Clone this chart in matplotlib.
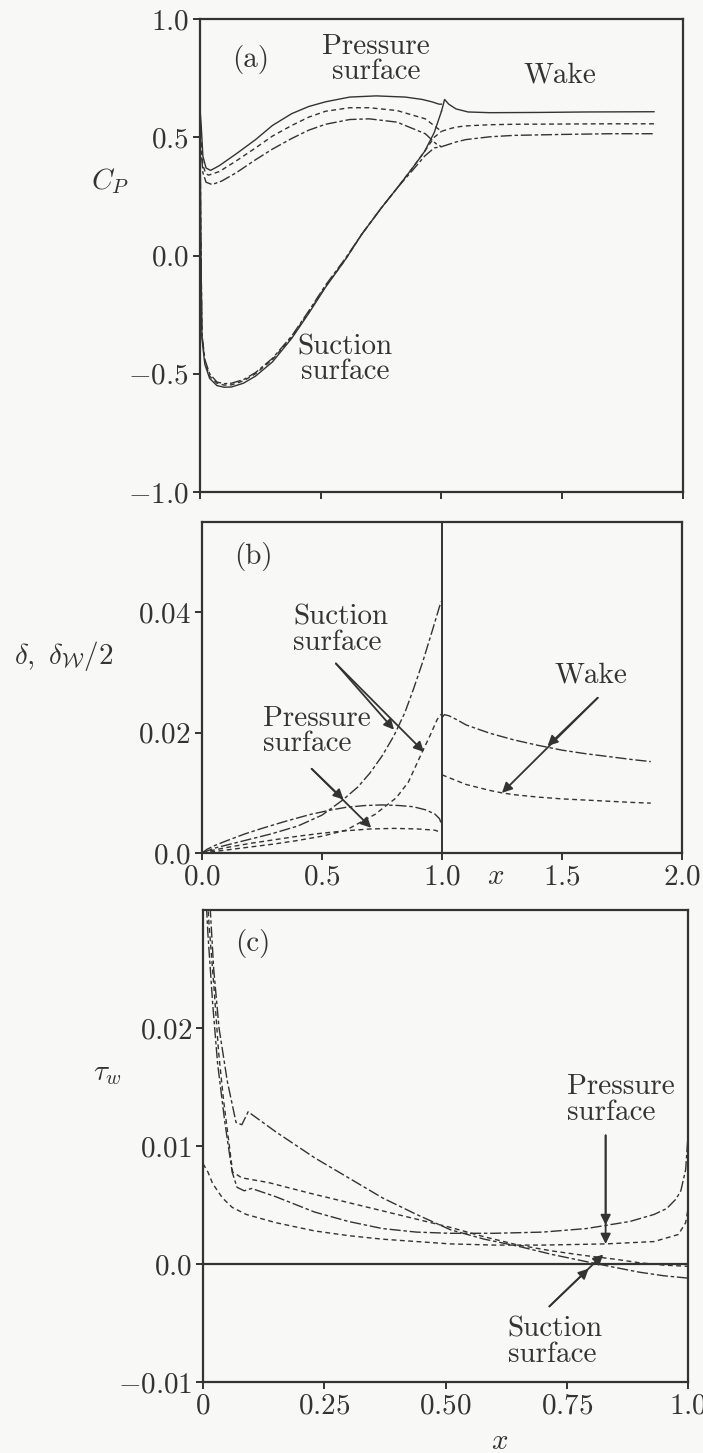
import matplotlib
matplotlib.use('Agg')
import matplotlib.pyplot as plt

# ============================================================
#  STYLE
# ============================================================
plt.rcParams['font.family'] = 'serif'
plt.rcParams['font.serif'] = ['cmr10', 'DejaVu Serif']
plt.rcParams['mathtext.fontset'] = 'cm'
plt.rcParams['axes.formatter.use_mathtext'] = True

INK = '#333333'
BG = '#f8f8f6'
FS = 21
LW = 1.0
SHORT = (0, (3.5, 2.5))
LONG = (0, (8, 2, 2.5, 2))

# ============================================================
#  DATA (a) - pressure coefficient
# ============================================================
ps_x_solid = [0.0, 0.005, 0.012, 0.025, 0.044, 0.08, 0.15, 0.23, 0.30, 0.38, 0.45,
              0.52, 0.62, 0.73, 0.85, 0.92, 0.96, 0.99, 1.0]
ps_cp_solid = [0.62, 0.55, 0.42, 0.37, 0.36, 0.38, 0.43, 0.49, 0.55, 0.60, 0.63,
               0.65, 0.67, 0.675, 0.67, 0.66, 0.65, 0.64, 0.64]
ps_x_short = [0.0, 0.005, 0.012, 0.025, 0.036, 0.08, 0.15, 0.23, 0.30, 0.38, 0.45,
              0.52, 0.62, 0.70, 0.816, 0.933, 0.977, 1.0]
ps_cp_short = [0.55, 0.48, 0.38, 0.345, 0.34, 0.355, 0.40, 0.455, 0.505, 0.55, 0.585,
               0.61, 0.625, 0.625, 0.613, 0.578, 0.543, 0.525]
ps_x_long = [0.0, 0.005, 0.012, 0.025, 0.05, 0.09, 0.15, 0.23, 0.30, 0.38, 0.45,
             0.52, 0.62, 0.70, 0.816, 0.933, 0.977, 1.0]
ps_cp_long = [0.5, 0.44, 0.35, 0.31, 0.30, 0.315, 0.35, 0.405, 0.45, 0.495, 0.53,
              0.555, 0.575, 0.578, 0.564, 0.515, 0.473, 0.46]

ss_x = [0.0, 0.003, 0.008, 0.02, 0.04, 0.07, 0.10, 0.13, 0.18, 0.23, 0.30, 0.38,
        0.45, 0.52, 0.60, 0.67, 0.75, 0.82, 0.88, 0.93, 0.97, 1.0]
ss_cp_solid = [0.62, 0.1, -0.35, -0.46, -0.52, -0.55, -0.557, -0.556, -0.54, -0.51,
               -0.45, -0.35, -0.245, -0.134, -0.02, 0.09, 0.20, 0.29, 0.37, 0.44, 0.52, 0.61]
ss_cp_short = [0.55, 0.1, -0.34, -0.45, -0.51, -0.54, -0.548, -0.547, -0.53, -0.50,
               -0.44, -0.345, -0.24, -0.13, -0.02, 0.09, 0.20, 0.29, 0.37, 0.44, 0.50, 0.525]
ss_cp_long = [0.5, 0.1, -0.33, -0.44, -0.50, -0.535, -0.542, -0.54, -0.525, -0.495,
              -0.435, -0.34, -0.235, -0.125, -0.015, 0.09, 0.20, 0.29, 0.36, 0.42, 0.455, 0.46]

wk_x_solid = [1.0, 1.013, 1.03, 1.06, 1.11, 1.2, 1.4, 1.6, 1.88]
wk_cp_solid = [0.61, 0.66, 0.64, 0.62, 0.607, 0.604, 0.605, 0.607, 0.608]
wk_x = [1.0, 1.03, 1.06, 1.1, 1.2, 1.3, 1.5, 1.7, 1.88]
wk_cp_short = [0.525, 0.535, 0.543, 0.548, 0.553, 0.555, 0.556, 0.557, 0.557]
wk_cp_long = [0.46, 0.47, 0.48, 0.49, 0.502, 0.508, 0.512, 0.515, 0.515]

# ============================================================
#  DATA (b) - displacement thickness
# ============================================================
bs_x_long = [0.0, 0.05, 0.1, 0.2, 0.29, 0.4, 0.5, 0.586, 0.65, 0.7, 0.75, 0.8,
             0.845, 0.88, 0.92, 0.96, 0.99, 1.0]
bs_d_long = [0.0, 0.0008, 0.0013, 0.0023, 0.0032, 0.0045, 0.0063, 0.0088, 0.011,
             0.0133, 0.0161, 0.0195, 0.0233, 0.0271, 0.0318, 0.037, 0.041, 0.042]
bs_x_short = [0.0, 0.1, 0.2, 0.3, 0.4, 0.5, 0.6, 0.66, 0.72, 0.81, 0.86, 0.92, 0.95,
              0.98, 1.0]
bs_d_short = [0.0, 0.0005, 0.001, 0.0015, 0.0021, 0.0028, 0.0038, 0.0051, 0.0064,
              0.0092, 0.0118, 0.017, 0.0195, 0.0222, 0.0232]
bp_x_long = [0.0, 0.02, 0.05, 0.1, 0.18, 0.25, 0.35, 0.45, 0.53, 0.6, 0.68, 0.75,
             0.82, 0.88, 0.93, 0.97, 0.99, 1.0]
bp_d_long = [0.0, 0.0006, 0.0012, 0.0020, 0.0032, 0.0041, 0.0053, 0.0064, 0.0071,
             0.0076, 0.0079, 0.008, 0.0079, 0.0077, 0.0072, 0.0065, 0.0057, 0.0045]
bp_x_short = [0.0, 0.05, 0.1, 0.2, 0.3, 0.4, 0.5, 0.6, 0.7, 0.8, 0.9, 0.97, 1.0]
bp_d_short = [0.0, 0.0005, 0.0009, 0.0016, 0.0022, 0.0028, 0.0033, 0.0037, 0.0040,
              0.0041, 0.0040, 0.0038, 0.0034]
bw_x_long = [1.0, 1.01, 1.03, 1.06, 1.1, 1.2, 1.3, 1.4, 1.5, 1.6, 1.7, 1.8, 1.87]
bw_d_long = [0.0225, 0.023, 0.0228, 0.0222, 0.0213, 0.0199, 0.0188, 0.0179, 0.0171,
             0.0165, 0.016, 0.0155, 0.0152]
bw_x_short = [1.0, 1.05, 1.1, 1.2, 1.25, 1.3, 1.4, 1.5, 1.6, 1.7, 1.8, 1.87]
bw_d_short = [0.013, 0.0122, 0.0114, 0.0104, 0.0100, 0.0097, 0.0093, 0.009, 0.0088,
              0.0086, 0.0084, 0.0083]

# ============================================================
#  DATA (c) - wall shear stress
# ============================================================
cs_x_long = [0.01, 0.015, 0.022, 0.033, 0.05, 0.068, 0.08, 0.093, 0.15, 0.23, 0.30,
             0.37, 0.44, 0.51, 0.58, 0.65, 0.72, 0.79, 0.85, 0.90, 0.95, 1.0]
cs_t_long = [0.032, 0.03, 0.025, 0.02, 0.0155, 0.012, 0.0118, 0.0129, 0.0112, 0.0090,
             0.0073, 0.0056, 0.0042, 0.0029, 0.0021, 0.0015, 0.0008, 0.0002, -0.0003,
             -0.0007, -0.001, -0.0012]
cs_x_short = [0.008, 0.012, 0.023, 0.032, 0.042, 0.061, 0.08, 0.135, 0.22, 0.32, 0.42,
              0.51, 0.58, 0.65, 0.72, 0.79, 0.85, 0.90, 0.95, 1.0]
cs_t_short = [0.032, 0.029, 0.0232, 0.018, 0.014, 0.0078, 0.0073, 0.0069, 0.006, 0.005,
              0.004, 0.0031, 0.0023, 0.0016, 0.0011, 0.0007, 0.0004, 0.0001, -0.0001,
              -0.0002]
cp_x_long = [0.005, 0.01, 0.02, 0.03, 0.045, 0.06, 0.07, 0.085, 0.10, 0.15, 0.23,
             0.30, 0.37, 0.44, 0.51, 0.6, 0.7, 0.79, 0.88, 0.93, 0.956, 0.975, 0.985,
             0.995, 1.0]
cp_t_long = [0.032, 0.028, 0.022, 0.017, 0.012, 0.0078, 0.0065, 0.0062, 0.0064,
             0.0057, 0.0044, 0.0036, 0.003, 0.0027, 0.0026, 0.0026, 0.0027, 0.003,
             0.0036, 0.0042, 0.0047, 0.0055, 0.0062, 0.008, 0.011]
cp_x_short = [0.0, 0.01, 0.02, 0.04, 0.06, 0.089, 0.15, 0.23, 0.30, 0.37, 0.44, 0.51,
              0.6, 0.7, 0.83, 0.93, 0.98, 0.995, 1.0]
cp_t_short = [0.0085, 0.0078, 0.0068, 0.0056, 0.0048, 0.0042, 0.0035, 0.0028, 0.0024,
              0.0021, 0.0019, 0.0017, 0.0016, 0.0016, 0.0017, 0.0019, 0.0025, 0.0035,
              0.0047]

# tick labels
a_yticks = [-1.0, -0.5, 0.0, 0.5, 1.0]
a_ylabels = ['$-1.0$', '$-0.5$', '$0.0$', '$0.5$', '$1.0$']
a_xticks = [0.0, 0.5, 1.0, 1.5, 2.0]
b_xticks = [0.0, 0.5, 1.0, 1.5, 2.0]
b_xlabels = ['$0.0$', '$0.5$', '$1.0$', '$1.5$', '$2.0$']
b_yticks = [0.0, 0.02, 0.04]
b_ylabels = ['$0.0$', '$0.02$', '$0.04$']
c_xticks = [0.0, 0.25, 0.5, 0.75, 1.0]
c_xlabels = ['$0$', '$0.25$', '$0.50$', '$0.75$', '$1.0$']
c_yticks = [-0.01, 0.0, 0.01, 0.02]
c_ylabels = ['$-0.01$', '$0.0$', '$0.01$', '$0.02$']


def style_axes(ax):
    ax.set_facecolor(BG)
    for s in ax.spines.values():
        s.set_color(INK)
        s.set_linewidth(1.6)
    ax.tick_params(direction='out', length=5, width=1.4, color=INK,
                   labelsize=FS, labelcolor=INK, pad=3,
                   top=False, right=False)


def arrow(ax, start, end):
    ax.annotate('', xy=end, xytext=start,
                arrowprops=dict(arrowstyle='-|>', color=INK, lw=1.3,
                                mutation_scale=15, shrinkA=0, shrinkB=0))


fig = plt.figure(figsize=(7.03, 14.53), dpi=100, facecolor=BG)

# ============================================================
#  PANEL (a)
# ============================================================
ax = fig.add_axes([0.2845, 0.6614, 0.687, 0.3255])
style_axes(ax)
ax.plot(ps_x_solid, ps_cp_solid, color=INK, lw=LW)
ax.plot(ps_x_short, ps_cp_short, color=INK, lw=LW, ls=SHORT)
ax.plot(ps_x_long, ps_cp_long, color=INK, lw=LW, ls=LONG)
ax.plot(ss_x, ss_cp_solid, color=INK, lw=LW)
ax.plot(ss_x, ss_cp_short, color=INK, lw=LW, ls=SHORT)
ax.plot(ss_x, ss_cp_long, color=INK, lw=LW, ls=LONG)
ax.plot(wk_x_solid, wk_cp_solid, color=INK, lw=LW)
ax.plot(wk_x, wk_cp_short, color=INK, lw=LW, ls=SHORT)
ax.plot(wk_x, wk_cp_long, color=INK, lw=LW, ls=LONG)
ax.set_xlim(0, 2)
ax.set_ylim(-1, 1)
ax.set_xticks(a_xticks, [''] * len(a_xticks))
ax.set_yticks(a_yticks, a_ylabels)
ax.set_ylabel('$C_P$', rotation=0, fontsize=FS, color=INK)
ax.yaxis.set_label_coords(-0.186, 0.625)
ax.text(0.21, 0.83, '(a)', fontsize=FS, color=INK, ha='center', va='center')
ax.text(0.73, 0.83, 'Pressure\nsurface', fontsize=FS, color=INK, ha='center',
        va='center', linespacing=0.95)
ax.text(1.49, 0.76, 'Wake', fontsize=FS, color=INK, ha='center', va='center')
ax.text(0.60, -0.44, 'Suction\nsurface', fontsize=FS, color=INK, ha='center',
        va='center', linespacing=0.95)

# ============================================================
#  PANEL (b)
# ============================================================
ax = fig.add_axes([0.2873, 0.4129, 0.6828, 0.2278])
style_axes(ax)
ax.plot(bs_x_long, bs_d_long, color=INK, lw=LW, ls=LONG)
ax.plot(bs_x_short, bs_d_short, color=INK, lw=LW, ls=SHORT)
ax.plot(bp_x_long, bp_d_long, color=INK, lw=LW, ls=LONG)
ax.plot(bp_x_short, bp_d_short, color=INK, lw=LW, ls=SHORT)
ax.plot(bw_x_long, bw_d_long, color=INK, lw=LW, ls=LONG)
ax.plot(bw_x_short, bw_d_short, color=INK, lw=LW, ls=SHORT)
ax.axvline(1.0, color=INK, lw=1.4)
ax.set_xlim(0, 2)
ax.set_ylim(0, 0.055)
ax.set_xticks(b_xticks, b_xlabels)
ax.set_yticks(b_yticks, b_ylabels)
ax.set_ylabel(r'$\delta,\ \delta_{\mathcal{W}}/2$', rotation=0, fontsize=FS, color=INK)
ax.yaxis.set_label_coords(-0.2875, 0.545)
ax.text(1.224, -0.072, '$x$', fontsize=FS, color=INK, ha='center', va='center',
        transform=ax.get_xaxis_transform())
ax.text(0.216, 0.0493, '(b)', fontsize=FS, color=INK, ha='center', va='center')
ax.text(0.379, 0.0371, 'Suction\nsurface', fontsize=FS, color=INK, ha='left',
        va='center', linespacing=0.95)
ax.text(0.253, 0.0202, 'Pressure\nsurface', fontsize=FS, color=INK, ha='left',
        va='center', linespacing=0.95)
ax.text(1.62, 0.0295, 'Wake', fontsize=FS, color=INK, ha='center', va='center')
arrow(ax, (0.558, 0.0315), (0.80, 0.0205))
arrow(ax, (0.558, 0.0315), (0.925, 0.0168))
arrow(ax, (0.457, 0.0140), (0.59, 0.0089))
arrow(ax, (0.457, 0.0140), (0.705, 0.0042))
arrow(ax, (1.649, 0.0258), (1.44, 0.0178))
arrow(ax, (1.649, 0.0258), (1.25, 0.0100))

# ============================================================
#  PANEL (c)
# ============================================================
ax = fig.add_axes([0.2888, 0.0489, 0.690, 0.3248])
style_axes(ax)
ax.plot(cs_x_long, cs_t_long, color=INK, lw=LW, ls=LONG)
ax.plot(cs_x_short, cs_t_short, color=INK, lw=LW, ls=SHORT)
ax.plot(cp_x_long, cp_t_long, color=INK, lw=LW, ls=LONG)
ax.plot(cp_x_short, cp_t_short, color=INK, lw=LW, ls=SHORT)
ax.axhline(0.0, color=INK, lw=1.6)
ax.set_xlim(0, 1)
ax.set_ylim(-0.01, 0.03)
ax.set_xticks(c_xticks, c_xlabels)
ax.set_yticks(c_yticks, c_ylabels)
ax.set_ylabel(r'$\tau_w$', rotation=0, fontsize=FS, color=INK)
ax.yaxis.set_label_coords(-0.198, 0.625)
ax.text(0.611, -0.127, '$x$', fontsize=FS, color=INK, ha='center', va='center',
        transform=ax.get_xaxis_transform())
ax.text(0.103, 0.0272, '(c)', fontsize=FS, color=INK, ha='center', va='center')
ax.text(0.75, 0.0139, 'Pressure\nsurface', fontsize=FS, color=INK, ha='left',
        va='center', linespacing=0.95)
ax.text(0.628, -0.0066, 'Suction\nsurface', fontsize=FS, color=INK, ha='left',
        va='center', linespacing=0.95)
arrow(ax, (0.83, 0.0109), (0.83, 0.0033))
arrow(ax, (0.83, 0.0109), (0.83, 0.0017))
arrow(ax, (0.714, -0.0036), (0.795, -0.0004))
arrow(ax, (0.714, -0.0036), (0.825, 0.0008))

fig.savefig('out.png', dpi=100, facecolor=BG)
